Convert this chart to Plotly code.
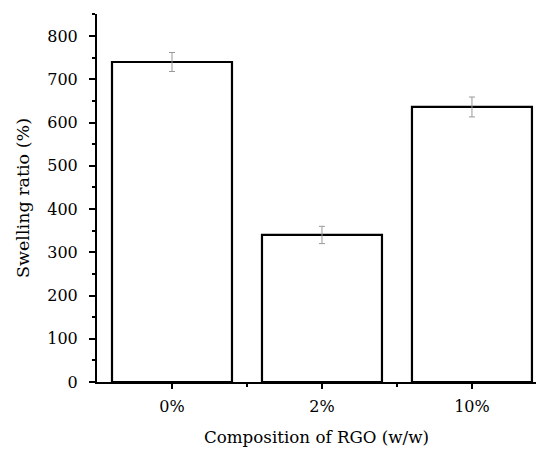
import plotly.graph_objects as go

categories = ["0%", "2%", "10%"]
swelling = [740, 340, 636]
errors = [22, 20, 23]
x_pos = [0, 1, 2]

fig = go.Figure()
fig.add_trace(go.Bar(
    x=x_pos, y=swelling, width=0.8,
    marker=dict(color="white", line=dict(color="black", width=2.2)),
    error_y=dict(type="data", array=errors, color="#999999", thickness=1, width=3),
    cliponaxis=False,
))

font_family = "DejaVu Serif"
fig.update_layout(
    width=528, height=439,
    margin=dict(l=89, r=0, t=6, b=65),
    plot_bgcolor="white", paper_bgcolor="white",
    showlegend=False,
    font=dict(family=font_family, size=16, color="black"),
    xaxis=dict(
        range=[-0.5, 2.427], tickvals=x_pos, ticktext=categories, automargin=False,
        showline=True, linecolor="black", linewidth=2,
        ticks="outside", ticklen=5, tickwidth=2, tickcolor="black",
        minor=dict(tickvals=[0.5, 1.5], ticks="outside", ticklen=3, tickwidth=2, tickcolor="black"),
        showgrid=False, zeroline=False,
        ticklabelstandoff=4,
        title=dict(text="Composition of RGO (w/w)", font=dict(family=font_family, size=16.7), standoff=30),
        tickfont=dict(family=font_family, size=16),
    ),
    yaxis=dict(
        range=[0, 851], tickvals=[0, 100, 200, 300, 400, 500, 600, 700, 800], automargin=False,
        showline=True, linecolor="black", linewidth=2,
        ticks="outside", ticklen=6, tickwidth=2, tickcolor="black",
        minor=dict(dtick=50, ticks="outside", ticklen=3, tickwidth=2, tickcolor="black"),
        showgrid=False, zeroline=False,
        ticklabelstandoff=8,
        title=dict(text="Swelling ratio (%)", font=dict(family=font_family, size=17.5), standoff=13),
        tickfont=dict(family=font_family, size=16),
    ),
)
fig.write_html("out.html")
